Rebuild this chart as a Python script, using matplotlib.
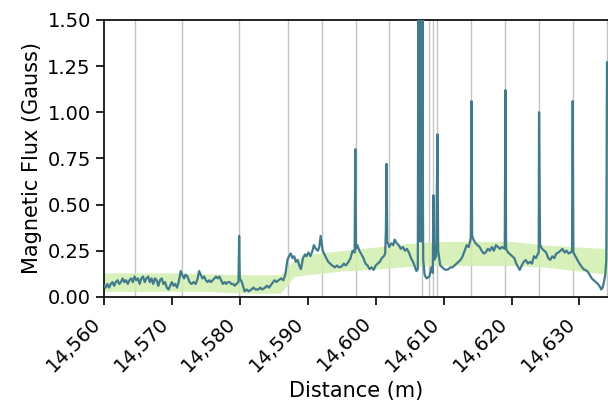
import matplotlib.pyplot as plt
import matplotlib.ticker as mticker

# readings along the track (m) and the field (Gauss)
dist = [
    14560.0, 14560.25, 14560.5, 14560.75, 14561.0, 14561.25, 14561.5, 14561.75,
    14562.0, 14562.25, 14562.5, 14562.75, 14563.0, 14563.25, 14563.5, 14563.75,
    14564.0, 14564.25, 14564.5, 14564.75, 14565.0, 14565.25, 14565.5, 14565.75,
    14566.0, 14566.25, 14566.5, 14566.75, 14567.0, 14567.25, 14567.5, 14567.75,
    14568.0, 14568.25, 14568.5, 14568.75, 14569.0, 14569.25, 14569.5, 14569.75,
    14570.0, 14570.25, 14570.5, 14570.75, 14571.0, 14571.3, 14571.5, 14571.8,
    14572.0, 14572.3, 14572.6, 14572.9, 14573.2, 14573.5, 14573.8, 14574.0,
    14574.25, 14574.5, 14574.75, 14575.0, 14575.25, 14575.5, 14575.75, 14576.0,
    14576.25, 14576.5, 14576.75, 14577.0, 14577.25, 14577.5, 14577.75, 14578.0,
    14578.25, 14578.5, 14578.75, 14579.0, 14579.25, 14579.5, 14579.8, 14579.9,
    14580.0, 14580.3, 14580.7, 14581.0, 14581.3, 14581.7, 14582.0, 14582.3,
    14582.7, 14583.0, 14583.3, 14583.7, 14584.0, 14584.3, 14584.7, 14585.1,
    14585.4, 14585.7, 14586.1, 14586.4, 14586.7, 14587.0, 14587.25, 14587.5,
    14587.75, 14588.0, 14588.25, 14588.5, 14588.75, 14589.0, 14589.3, 14589.6,
    14589.8, 14590.1, 14590.4, 14590.7, 14590.9, 14591.2, 14591.5, 14591.7,
    14591.9, 14592.2, 14592.6, 14593.0, 14593.3, 14593.6, 14594.0, 14594.3,
    14594.6, 14595.0, 14595.3, 14595.6, 14596.0, 14596.3, 14596.6, 14596.9,
    14597.0, 14597.1, 14597.3, 14597.6, 14597.9, 14598.2, 14598.5, 14598.8,
    14599.1, 14599.4, 14599.7, 14600.0, 14600.3, 14600.6, 14600.9, 14601.2,
    14601.4, 14601.5, 14601.6, 14601.7, 14602.0, 14602.3, 14602.6, 14602.8,
    14603.1, 14603.4, 14603.7, 14604.0, 14604.3, 14604.6, 14604.9, 14605.2,
    14605.5, 14605.8, 14606.0, 14606.2,
    14606.3, 14606.35, 14606.4, 14606.45, 14606.5, 14606.55, 14606.6,
    14606.65, 14606.7, 14606.75, 14606.8, 14606.85, 14606.9, 14606.95,
    14607.0, 14607.2, 14607.5, 14607.9, 14608.2, 14608.4, 14608.5,
    14608.6, 14608.9, 14609.1, 14609.2, 14609.5, 14609.8, 14610.1, 14610.4,
    14610.7, 14611.0, 14611.3, 14611.6, 14611.9, 14612.2, 14612.5, 14612.8,
    14613.1, 14613.4, 14613.7, 14614.0, 14614.1, 14614.2, 14614.4, 14614.7,
    14615.0, 14615.3, 14615.6, 14615.9, 14616.2, 14616.5, 14616.8, 14617.1,
    14617.4, 14617.7, 14618.0, 14618.3, 14618.6, 14619.0, 14619.1, 14619.2,
    14619.5, 14619.8, 14620.1, 14620.4, 14620.7, 14621.0, 14621.2, 14621.5,
    14621.8, 14622.1, 14622.4, 14622.7, 14623.0, 14623.3, 14623.6, 14623.9,
    14624.0, 14624.05, 14624.2, 14624.5, 14624.8, 14625.1, 14625.4, 14625.7,
    14626.0, 14626.3, 14626.6, 14626.9, 14627.2, 14627.5, 14627.8, 14628.1,
    14628.4, 14628.7, 14628.9, 14629.0, 14629.1, 14629.4, 14629.7, 14630.0,
    14630.3, 14630.6, 14630.9, 14631.2, 14631.5, 14631.8, 14632.1, 14632.4,
    14632.7, 14633.0, 14633.2, 14633.4, 14633.6, 14633.8, 14633.95, 14634.05,
]
flux = [
    0.06, 0.05, 0.07, 0.05, 0.07, 0.08, 0.06, 0.08,
    0.09, 0.07, 0.08, 0.10, 0.08, 0.09, 0.07, 0.09,
    0.10, 0.08, 0.11, 0.09, 0.10, 0.07, 0.10, 0.11,
    0.08, 0.10, 0.11, 0.08, 0.10, 0.07, 0.10, 0.09,
    0.06, 0.09, 0.10, 0.07, 0.08, 0.05, 0.04, 0.06,
    0.08, 0.06, 0.07, 0.05, 0.08, 0.14, 0.12, 0.10,
    0.12, 0.11, 0.08, 0.07, 0.08, 0.07, 0.10, 0.14,
    0.12, 0.10, 0.11, 0.09, 0.08, 0.09, 0.08, 0.09,
    0.10, 0.11, 0.10, 0.11, 0.09, 0.07, 0.08, 0.07,
    0.08, 0.08, 0.07, 0.07, 0.06, 0.07, 0.08, 0.33,
    0.10, 0.08, 0.03, 0.04, 0.03, 0.04, 0.05, 0.04,
    0.04, 0.05, 0.04, 0.05, 0.06, 0.05, 0.07, 0.09,
    0.08, 0.09, 0.10, 0.09, 0.12, 0.20, 0.22, 0.235,
    0.21, 0.22, 0.19, 0.20, 0.17, 0.15, 0.21, 0.23,
    0.22, 0.24, 0.22, 0.25, 0.28, 0.26, 0.25, 0.27,
    0.33, 0.25, 0.22, 0.19, 0.18, 0.17, 0.16, 0.17,
    0.16, 0.165, 0.18, 0.17, 0.19, 0.21, 0.25, 0.24,
    0.80, 0.26, 0.28, 0.25, 0.23, 0.21, 0.18, 0.17,
    0.15, 0.16, 0.146, 0.17, 0.18, 0.19, 0.21, 0.22,
    0.235, 0.36, 0.72, 0.30, 0.27, 0.29, 0.28, 0.31,
    0.29, 0.28, 0.26, 0.27, 0.25, 0.26, 0.24, 0.21,
    0.19, 0.16, 0.14, 0.15,
    2.10, 0.30, 2.10, 0.40, 2.10, 0.30, 2.10,
    0.50, 2.10, 0.30, 2.10, 0.40, 2.10, 0.60,
    0.20, 0.12, 0.10, 0.11, 0.16, 0.13, 0.55,
    0.20, 0.22, 0.88, 0.25, 0.17, 0.16, 0.15, 0.146,
    0.15, 0.16, 0.16, 0.17, 0.18, 0.19, 0.20, 0.22,
    0.25, 0.28, 0.27, 0.32, 1.06, 0.33, 0.31, 0.29,
    0.28, 0.27, 0.25, 0.235, 0.24, 0.26, 0.25, 0.27,
    0.25, 0.28, 0.27, 0.26, 0.27, 0.26, 1.12, 0.26,
    0.24, 0.23, 0.22, 0.21, 0.18, 0.16, 0.146, 0.17,
    0.19, 0.20, 0.18, 0.19, 0.18, 0.22, 0.21, 0.235,
    0.24, 1.00, 0.28, 0.26, 0.25, 0.24, 0.21, 0.20,
    0.22, 0.21, 0.235, 0.24, 0.25, 0.26, 0.24, 0.25,
    0.235, 0.24, 0.25, 1.06, 0.24, 0.22, 0.20, 0.18,
    0.164, 0.15, 0.145, 0.137, 0.12, 0.10, 0.09, 0.08,
    0.07, 0.056, 0.04, 0.05, 0.08, 0.12, 0.20, 1.27,
]

# background band (typical range)
band_x = [14560, 14570, 14575, 14580, 14586, 14588, 14590, 14595, 14600,
          14605, 14610, 14615, 14620, 14625, 14630, 14634.5]
band_lo = [0.03, 0.03, 0.03, 0.02, 0.02, 0.11, 0.12, 0.14, 0.15,
           0.165, 0.17, 0.17, 0.17, 0.16, 0.14, 0.12]
band_hi = [0.13, 0.13, 0.125, 0.12, 0.12, 0.20, 0.23, 0.25, 0.27,
           0.29, 0.30, 0.30, 0.30, 0.28, 0.27, 0.26]

# marker positions (m)
marks = [14564.6, 14571.5, 14579.9, 14587.1, 14592.1, 14597.1, 14601.9,
         14606.8, 14607.9, 14608.5, 14609.1, 14614.1, 14619.1, 14624.0,
         14629.0, 14634.0]

plt.rcParams["font.size"] = 14

fig = plt.figure(figsize=(6.08, 4.05), dpi=100)
ax = fig.add_axes([0.171, 0.267, 0.829, 0.684])

for m in marks:
    ax.axvline(m, color="#c4c4c4", linewidth=1.0, zorder=1)

ax.fill_between(band_x, band_lo, band_hi, color="#d2eeae", alpha=0.85,
                linewidth=0, zorder=2)
ax.plot(dist, flux, color="#417b8b", linewidth=1.6, zorder=3)

ax.set_xlim(14560, 14634.2)
ax.set_ylim(0, 1.5)
ax.set_yticks([0, 0.25, 0.5, 0.75, 1.0, 1.25, 1.5])
ax.yaxis.set_major_formatter(mticker.FormatStrFormatter("%.2f"))
ax.set_xticks(range(14560, 14631, 10))
ax.xaxis.set_major_formatter(mticker.StrMethodFormatter("{x:,.0f}"))
plt.setp(ax.get_xticklabels(), rotation=45, ha="right")
ax.tick_params(length=6, width=1.2)
ax.tick_params(axis="x", pad=6)
ax.spines["right"].set_visible(False)
for s in ["left", "top", "bottom"]:
    ax.spines[s].set_linewidth(1.2)

ax.set_xlabel("Distance (m)", fontsize=15)
ax.set_ylabel("Magnetic Flux (Gauss)", fontsize=15)

fig.savefig("out.png", dpi=100)
